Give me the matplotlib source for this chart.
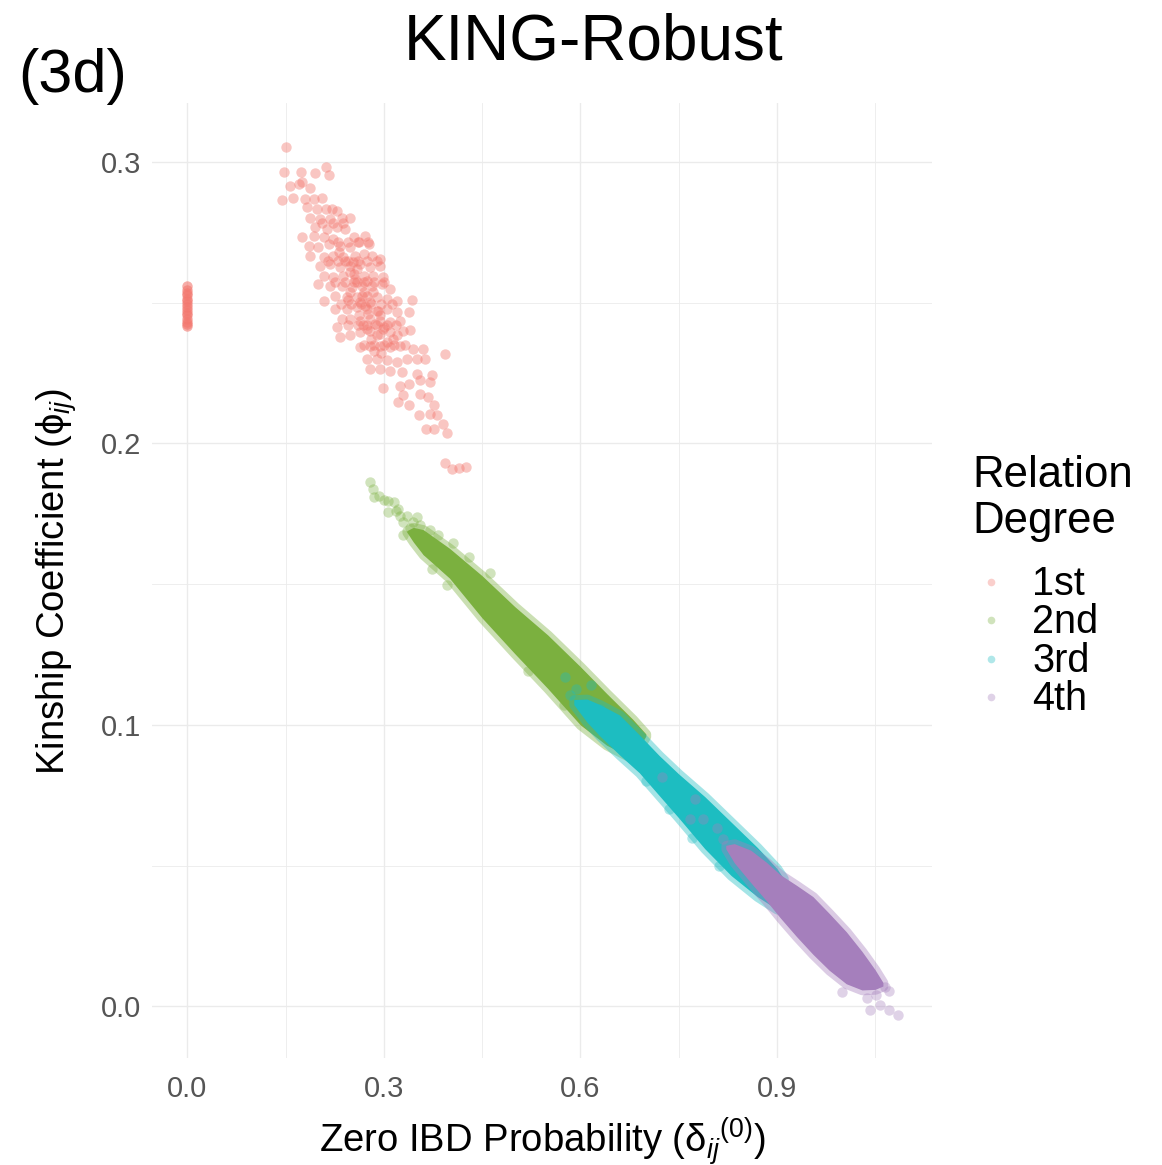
import matplotlib.pyplot as plt
from matplotlib.lines import Line2D

plt.rcParams['font.family'] = ['Liberation Sans', 'DejaVu Sans']
plt.rcParams['mathtext.fontset'] = 'custom'
plt.rcParams['mathtext.rm'] = 'Liberation Sans'
plt.rcParams['mathtext.it'] = 'Liberation Sans:italic'

degree_labels = ['1st', '2nd', '3rd', '4th']
degree_colors = ['#F3776E', '#7BB03F', '#1DBDC1', '#A57FBC']

# 1st degree pairs sitting at zero IBD probability
first_zero_x = [0.0] * 15
first_zero_y = [0.2416, 0.2424, 0.2433, 0.2444, 0.2455, 0.2464, 0.2474, 0.2486,
                0.2495, 0.2506, 0.2514, 0.2526, 0.2535, 0.2546, 0.2558]

# 1st degree cloud
first_x = [0.150, 0.147, 0.173, 0.195, 0.211, 0.217, 0.157, 0.170, 0.175, 0.188,
           0.144, 0.162, 0.180, 0.193, 0.205, 0.183, 0.198, 0.211, 0.221, 0.228,
           0.188, 0.203, 0.218, 0.236, 0.249, 0.195, 0.213, 0.228, 0.241, 0.175,
           0.193, 0.208, 0.223, 0.254, 0.271, 0.185, 0.200, 0.216, 0.233, 0.249,
           0.261, 0.277, 0.188, 0.208, 0.223, 0.238, 0.256, 0.269, 0.282, 0.294,
           0.203, 0.218, 0.233, 0.249, 0.264, 0.279, 0.294, 0.208, 0.223, 0.238,
           0.254, 0.269, 0.284, 0.299, 0.200, 0.218, 0.236, 0.251, 0.266, 0.282,
           0.297, 0.310, 0.208, 0.226, 0.244, 0.259, 0.274, 0.289, 0.305, 0.320,
           0.343, 0.226, 0.244, 0.259, 0.274, 0.289, 0.305, 0.320, 0.338, 0.228,
           0.236, 0.249, 0.264, 0.279, 0.294, 0.310, 0.325, 0.340, 0.233, 0.249,
           0.264, 0.279, 0.294, 0.310, 0.330, 0.264, 0.279, 0.294, 0.310, 0.325,
           0.345, 0.360, 0.274, 0.289, 0.305, 0.320, 0.335, 0.350, 0.363, 0.393,
           0.279, 0.294, 0.310, 0.327, 0.350, 0.373, 0.299, 0.325, 0.338, 0.355,
           0.371, 0.330, 0.322, 0.338, 0.355, 0.368, 0.376, 0.353, 0.371, 0.381,
           0.365, 0.376, 0.391, 0.396, 0.393, 0.404, 0.414, 0.426, 0.249, 0.259,
           0.269, 0.279, 0.294, 0.299, 0.305, 0.259, 0.274, 0.284, 0.249, 0.264,
           0.289, 0.274, 0.320, 0.241, 0.256, 0.266, 0.271, 0.286, 0.262, 0.246,
           0.231, 0.281, 0.296, 0.301, 0.314, 0.268, 0.253, 0.291, 0.276, 0.285,
           0.215, 0.230, 0.245, 0.260, 0.275, 0.290, 0.225, 0.240, 0.255, 0.270,
           0.285, 0.300, 0.235, 0.250, 0.265, 0.280, 0.295, 0.312, 0.245, 0.260,
           0.275, 0.290, 0.305, 0.318, 0.270, 0.285, 0.300, 0.315, 0.332, 0.230,
           0.245, 0.262, 0.276, 0.205, 0.222, 0.238]
first_y = [0.3055, 0.2963, 0.2963, 0.2960, 0.2983, 0.2955, 0.2916, 0.2922, 0.2928, 0.2908,
           0.2865, 0.2874, 0.2869, 0.2869, 0.2874, 0.2839, 0.2833, 0.2833, 0.2833, 0.2827,
           0.2803, 0.2798, 0.2798, 0.2803, 0.2803, 0.2768, 0.2762, 0.2768, 0.2762, 0.2733,
           0.2738, 0.2733, 0.2727, 0.2733, 0.2738, 0.2703, 0.2697, 0.2709, 0.2703, 0.2697,
           0.2715, 0.2709, 0.2667, 0.2662, 0.2667, 0.2662, 0.2667, 0.2673, 0.2667, 0.2656,
           0.2632, 0.2638, 0.2626, 0.2632, 0.2638, 0.2626, 0.2632, 0.2596, 0.2590, 0.2596,
           0.2602, 0.2596, 0.2596, 0.2590, 0.2567, 0.2561, 0.2561, 0.2555, 0.2561, 0.2561,
           0.2567, 0.2549, 0.2508, 0.2525, 0.2520, 0.2520, 0.2525, 0.2520, 0.2514, 0.2508,
           0.2511, 0.2478, 0.2478, 0.2484, 0.2478, 0.2472, 0.2478, 0.2466, 0.2469, 0.2413,
           0.2443, 0.2443, 0.2437, 0.2443, 0.2437, 0.2431, 0.2437, 0.2404, 0.2378, 0.2384,
           0.2395, 0.2401, 0.2389, 0.2395, 0.2401, 0.2342, 0.2348, 0.2348, 0.2342, 0.2348,
           0.2336, 0.2336, 0.2301, 0.2301, 0.2295, 0.2289, 0.2301, 0.2301, 0.2301, 0.2318,
           0.2265, 0.2265, 0.2259, 0.2253, 0.2247, 0.2242, 0.2197, 0.2206, 0.2212, 0.2224,
           0.2218, 0.2171, 0.2147, 0.2135, 0.2177, 0.2165, 0.2135, 0.2100, 0.2106, 0.2100,
           0.2052, 0.2052, 0.2070, 0.2038, 0.1930, 0.1910, 0.1913, 0.1916, 0.2608, 0.2573,
           0.2537, 0.2502, 0.2455, 0.2407, 0.2360, 0.2620, 0.2579, 0.2537, 0.2537, 0.2502,
           0.2384, 0.2407, 0.2384, 0.2650, 0.2585, 0.2525, 0.2490, 0.2425, 0.2455, 0.2510,
           0.2680, 0.2370, 0.2320, 0.2415, 0.2370, 0.2420, 0.2645, 0.2470, 0.2460, 0.2330,
           0.2650, 0.2650, 0.2650, 0.2650, 0.2650, 0.2650, 0.2575, 0.2575, 0.2575, 0.2575,
           0.2575, 0.2575, 0.2495, 0.2495, 0.2495, 0.2495, 0.2495, 0.2495, 0.2420, 0.2420,
           0.2420, 0.2420, 0.2420, 0.2420, 0.2350, 0.2350, 0.2350, 0.2350, 0.2350, 0.2715,
           0.2715, 0.2715, 0.2715, 0.2785, 0.2785, 0.2785]

# dense bands of 2nd/3rd/4th degree pairs: x with upper/lower edge of the band
second_x = [0.335, 0.345, 0.360, 0.400, 0.450, 0.500, 0.550, 0.600, 0.640, 0.680, 0.700]
second_hi = [0.1690, 0.1702, 0.1694, 0.1628, 0.1530, 0.1420, 0.1320, 0.1207, 0.1112, 0.1020, 0.0968]
second_lo = [0.1685, 0.1650, 0.1605, 0.1522, 0.1380, 0.1253, 0.1130, 0.1000, 0.0928, 0.0880, 0.0960]
second_out_x = [0.279, 0.284, 0.285, 0.307, 0.315, 0.307, 0.325, 0.330, 0.350, 0.330,
                0.371, 0.383, 0.373, 0.396, 0.340, 0.318, 0.345, 0.360, 0.292, 0.300,
                0.322, 0.336, 0.355, 0.366, 0.381, 0.405, 0.430, 0.462, 0.520, 0.575]
second_out_y = [0.1863, 0.1839, 0.1810, 0.1797, 0.1792, 0.1756, 0.1744, 0.1722, 0.1738, 0.1673,
                0.1691, 0.1673, 0.1555, 0.1496, 0.1700, 0.1760, 0.1720, 0.1650, 0.1815, 0.1800,
                0.1768, 0.1742, 0.1712, 0.1618, 0.1600, 0.1645, 0.1595, 0.1540, 0.1190, 0.1070]

third_x = [0.590, 0.610, 0.630, 0.660, 0.690, 0.720, 0.750, 0.790, 0.830, 0.870, 0.900, 0.910]
third_hi = [0.1090, 0.1092, 0.1072, 0.1035, 0.0965, 0.0892, 0.0826, 0.0745, 0.0655, 0.0565, 0.0490, 0.0455]
third_lo = [0.1072, 0.1010, 0.0960, 0.0893, 0.0830, 0.0750, 0.0670, 0.0560, 0.0465, 0.0390, 0.0345, 0.0400]
third_out_x = [0.577, 0.594, 0.617, 0.584, 0.605, 0.630, 0.700, 0.735, 0.770, 0.812]
third_out_y = [0.1170, 0.1129, 0.1141, 0.1105, 0.1070, 0.1058, 0.0800, 0.0700, 0.0598, 0.0500]

fourth_x = [0.822, 0.835, 0.860, 0.884, 0.905, 0.930, 0.955, 0.980, 1.006, 1.030, 1.050, 1.062]
fourth_hi = [0.0572, 0.0578, 0.0555, 0.0512, 0.0468, 0.0430, 0.0390, 0.0330, 0.0265, 0.0195, 0.0130, 0.0085]
fourth_lo = [0.0560, 0.0510, 0.0440, 0.0375, 0.0315, 0.0248, 0.0185, 0.0128, 0.0080, 0.0058, 0.0060, 0.0072]
fourth_out_x = [0.724, 0.775, 0.767, 0.788, 0.808, 0.818, 0.999, 1.042, 1.057, 1.072,
                1.072, 1.085, 1.037, 1.052, 1.065, 1.045]
fourth_out_y = [0.0815, 0.0738, 0.0667, 0.0667, 0.0632, 0.0596, 0.0052, -0.0013, 0.0005, 0.0053,
                -0.0013, -0.0031, 0.0028, 0.0040, 0.0070, 0.0090]

x_ticks = [0.0, 0.3, 0.6, 0.9]
x_minor = [0.15, 0.45, 0.75, 1.05]
y_ticks = [0.0, 0.1, 0.2, 0.3]
y_minor = [0.05, 0.15, 0.25]

fig = plt.figure(figsize=(11.62, 11.65), dpi=100)
ax = fig.add_axes([0.1308, 0.0918, 0.6713, 0.8198])

pt = 56
ax.scatter(first_zero_x, first_zero_y, s=pt, color=degree_colors[0], alpha=0.6, linewidths=0)
ax.scatter(first_x, first_y, s=pt, color=degree_colors[0], alpha=0.42, linewidths=0)

bands = [(second_x, second_lo, second_hi, second_out_x, second_out_y, degree_colors[1]),
         (third_x, third_lo, third_hi, third_out_x, third_out_y, degree_colors[2]),
         (fourth_x, fourth_lo, fourth_hi, fourth_out_x, fourth_out_y, degree_colors[3])]
for bx, lo, hi, ox, oy, col in bands:
    ax.scatter(ox, oy, s=pt, color=col, alpha=0.35, linewidths=0)
    ax.fill_between(bx, lo, hi, facecolor=col, edgecolor=(col, 0.4),
                    linewidth=7, joinstyle='round')

ax.set_xlim(-0.054, 1.137)
ax.set_ylim(-0.0184, 0.321)
ax.set_xticks(x_ticks)
ax.set_xticklabels(['0.0', '0.3', '0.6', '0.9'])
ax.set_xticks(x_minor, minor=True)
ax.set_yticks(y_ticks)
ax.set_yticklabels(['0.0', '0.1', '0.2', '0.3'])
ax.set_yticks(y_minor, minor=True)
ax.grid(which='major', color='#EBEBEB', linewidth=1.0)
ax.grid(which='minor', color='#EBEBEB', linewidth=0.6)
ax.set_axisbelow(True)
for sp in ax.spines.values():
    sp.set_visible(False)
ax.tick_params(which='both', length=0)
ax.tick_params(axis='x', labelsize=21, labelcolor='#555555', pad=12)
ax.tick_params(axis='y', labelsize=21, labelcolor='#555555', pad=8)

fig.text(0.4664, 0.0112, 'Zero IBD Probability (δ$_{ij}{}^{(0)}$)', fontsize=27.5,
         ha='center', va='baseline')
fig.text(0.049, 0.5013, 'Kinship Coefficient (ϕ$_{ij}$)', fontsize=27.5,
         rotation=90, ha='center', va='center')
fig.text(0.5112, 0.9485, 'KING-Robust', fontsize=46, ha='center', va='baseline')
fig.text(0.0155, 0.921, '(3d)', fontsize=44, ha='left', va='baseline')

# legend
fig.text(972 / 1162, 1 - 487 / 1165, 'Relation', fontsize=31.5, va='baseline')
fig.text(972 / 1162, 1 - 533 / 1165, 'Degree', fontsize=31.5, va='baseline')
key_y = [582, 620, 659, 697]
for lab, col, ky in zip(degree_labels, degree_colors, key_y):
    fig.add_artist(Line2D([991 / 1162], [1 - ky / 1165], transform=fig.transFigure,
                          marker='o', markersize=5.5, color=col, alpha=0.35,
                          markeredgewidth=0, linestyle='none'))
    fig.text(1032 / 1162, 1 - (ky + 13) / 1165, lab, fontsize=28.5, va='baseline')

fig.savefig('out.png', dpi=100)
